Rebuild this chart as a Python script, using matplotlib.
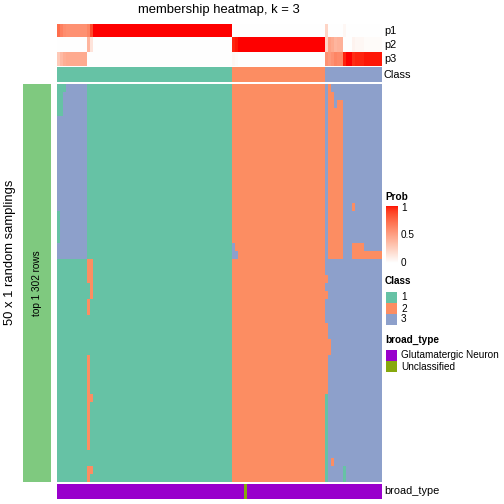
import numpy as np
import matplotlib
matplotlib.use("Agg")
import matplotlib.pyplot as plt
from matplotlib.colors import ListedColormap, BoundaryNorm
from matplotlib.patches import Rectangle

plt.rcParams['font.family'] = ['Liberation Sans', 'DejaVu Sans']

# ---------------- data ----------------
title = "membership heatmap, k = 3"
ylabel = "50 x 1 random samplings"
row_split_label = "top 1 302 rows"
class_names = ["1", "2", "3"]
class_colors = ["#66C2A5", "#FC8D62", "#8DA0CB"]
broad_types = ["Glutamatergic Neuron", "Unclassified"]
broad_colors = ["#9900CC", "#86A80D"]

# membership of each sample (column) in each of 50 random samplings (rows), run-length coded
membership_rle = [
    "1x3 3x7 1x48 2x31 3x1 2x1 3x17",
    "1x2 3x8 1x48 2x31 3x1 2x2 3x16",
    "1x2 3x8 1x48 2x31 3x1 2x2 3x1 2x2 3x13",
    "1x2 3x8 1x48 2x31 3x1 2x5 3x13",
    "3x10 1x48 2x31 3x1 2x5 3x13",
    "3x10 1x48 2x31 3x1 2x5 3x13",
    "3x10 1x48 2x31 3x1 2x5 3x13",
    "3x10 1x48 2x31 3x1 2x5 3x13",
    "3x10 1x48 2x31 3x1 2x5 3x13",
    "3x10 1x48 2x31 3x1 2x5 3x13",
    "3x10 1x48 2x31 3x1 2x5 3x13",
    "3x10 1x48 2x31 3x1 2x5 3x13",
    "3x10 1x48 2x31 3x1 2x5 3x13",
    "3x10 1x48 2x31 3x1 2x5 3x13",
    "3x10 1x48 2x31 3x1 2x5 3x13",
    "3x10 1x48 2x31 3x1 2x5 3x3 2x1 3x9",
    "1x1 3x9 1x48 2x31 3x1 2x5 3x13",
    "1x1 3x9 1x48 2x31 3x1 2x5 3x13",
    "1x1 3x9 1x48 2x31 3x1 2x5 3x13",
    "1x1 3x9 1x48 2x31 3x1 2x5 3x13",
    "3x10 1x48 3x1 2x30 3x1 2x5 3x3 2x4 3x6",
    "3x10 1x48 3x2 2x29 3x1 2x5 3x3 2x10",
    "1x10 2x2 1x46 2x31 3x19",
    "1x10 2x2 1x46 2x31 3x19",
    "1x10 2x2 1x46 2x32 3x18",
    "1x11 2x1 1x46 2x31 3x19",
    "1x11 2x1 1x46 2x32 3x18",
    "1x10 2x1 1x47 2x31 3x19",
    "1x10 2x1 1x47 2x31 3x19",
    "1x58 2x31 3x19",
    "1x58 2x32 3x18",
    "1x58 2x32 3x18",
    "1x58 2x33 3x17",
    "1x58 2x33 3x17",
    "1x10 2x1 1x47 2x32 3x18",
    "1x10 2x1 1x47 2x32 3x18",
    "1x10 2x1 1x47 2x32 3x18",
    "1x10 2x1 1x47 2x32 3x18",
    "1x10 2x1 1x47 2x32 3x18",
    "1x10 2x2 1x46 2x31 1x1 3x18",
    "1x10 2x1 1x47 2x31 1x1 3x18",
    "1x10 2x1 1x47 2x31 1x1 3x18",
    "1x10 2x1 1x47 2x31 1x1 3x18",
    "1x10 2x1 1x47 2x31 1x1 3x18",
    "1x10 2x1 1x47 2x31 1x1 3x18",
    "1x10 2x1 1x47 2x31 1x1 3x18",
    "1x58 2x31 1x1 3x18",
    "1x58 2x31 1x1 3x1 2x1 3x16",
    "1x10 2x2 1x46 2x31 1x1 3x5 1x1 3x12",
    "1x10 2x1 1x47 2x31 1x1 3x5 1x1 3x12",
]

# class probabilities per column (value, run length)
p1_runs = [(0.72, 1), (0.64, 1), (0.58, 1), (0.56, 7), (0.62, 1), (0.86, 1), (1.0, 46),
           (0.0, 31), (0.22, 1), (0.0, 5), (0.04, 1), (0.0, 12)]
p2_runs = [(0.0, 10), (0.38, 1), (0.14, 1), (0.0, 46), (0.96, 1), (0.98, 1), (1.0, 29),
           (0.22, 1), (0.48, 1), (0.44, 1), (0.38, 1), (0.40, 2), (0.0, 3), (0.06, 1),
           (0.04, 3), (0.02, 6)]
p3_runs = [(0.28, 1), (0.36, 1), (0.42, 1), (0.44, 7), (0.0, 48), (0.04, 1), (0.02, 1),
           (0.0, 29), (0.56, 1), (0.52, 1), (0.56, 1), (0.62, 1), (0.60, 2), (0.96, 1),
           (1.0, 2), (0.94, 1), (0.96, 3), (0.98, 6)]
class_runs = [(1, 58), (2, 31), (3, 19)]
broad_runs = [(0, 62), (1, 1), (0, 45)]


def expand(runs):
    out = []
    for v, n in runs:
        out += [v] * n
    return out


def decode(s):
    out = []
    for tok in s.split():
        v, n = tok.split("x")
        out += [int(v)] * int(n)
    return out


M = np.array([decode(s) for s in membership_rle])
P = np.array([expand(p1_runs), expand(p2_runs), expand(p3_runs)])
cls = np.array([expand(class_runs)])
brd = np.array([expand(broad_runs)])


# white -> red in LAB space
def lab_to_rgb(L, a, b):
    fy = (L + 16) / 116
    fx = fy + a / 500
    fz = fy - b / 200

    def finv(t):
        return np.where(t ** 3 > 0.008856, t ** 3, (t - 16 / 116) / 7.787)
    X, Y, Z = 0.95047 * finv(fx), 1.0 * finv(fy), 1.08883 * finv(fz)
    R = 3.2406 * X - 1.5372 * Y - 0.4986 * Z
    G = -0.9689 * X + 1.8758 * Y + 0.0415 * Z
    B = 0.0557 * X - 0.2040 * Y + 1.0570 * Z
    rgb = np.stack([R, G, B], -1)
    rgb = np.clip(rgb, 0, 1)
    rgb = np.where(rgb > 0.0031308, 1.055 * rgb ** (1 / 2.4) - 0.055, 12.92 * rgb)
    return np.clip(rgb, 0, 1)


t = np.linspace(0, 1, 256)
prob_cmap = ListedColormap(lab_to_rgb(100 - t * (100 - 53.24), t * 80.09, t * 67.20))
class_cmap = ListedColormap(class_colors)
class_norm = BoundaryNorm([0.5, 1.5, 2.5, 3.5], 3)
broad_cmap = ListedColormap(broad_colors)

# ---------------- layout ----------------
W = H = 504
fig = plt.figure(figsize=(7, 7), dpi=72)


def ax_px(x0, y0, x1, y1):
    a = fig.add_axes([x0 / W, 1 - y1 / H, (x1 - x0) / W, (y1 - y0) / H])
    a.set_axis_off()
    return a


X0, X1 = 57, 381
ax = ax_px(X0, 24, X1, 66)
ax.imshow(P, cmap=prob_cmap, vmin=0, vmax=1, aspect="auto", interpolation="nearest")
ax = ax_px(X0, 67, X1, 81.7)
ax.imshow(cls, cmap=class_cmap, norm=class_norm, aspect="auto", interpolation="nearest")
ax = ax_px(X0, 84, X1, 482)
ax.imshow(M, cmap=class_cmap, norm=class_norm, aspect="auto", interpolation="nearest")
ax = ax_px(X0, 484, X1, 499)
ax.imshow(brd, cmap=broad_cmap, vmin=-0.5, vmax=1.5, aspect="auto", interpolation="nearest")

# overlay for text and legends in pixel coordinates
ov = fig.add_axes([0, 0, 1, 1])
ov.set_xlim(0, W)
ov.set_ylim(H, 0)
ov.set_axis_off()

ov.add_patch(Rectangle((23, 84), 28, 398, color="#7FC97F", lw=0))
ov.text(37, 283, row_split_label, rotation=90, ha="center", va="center", fontsize=10)
ov.text(10, 252, ylabel, rotation=90, ha="center", va="center", fontsize=13)
ov.text((X0 + X1) / 2, 10, title, ha="center", va="center", fontsize=13)

for lab, y in zip(["p1", "p2", "p3", "Class"], [31, 45, 59, 74.5]):
    ov.text(384, y, lab, ha="left", va="center", fontsize=11)
ov.text(384, 491.5, "broad_type", ha="left", va="center", fontsize=11)

# Prob legend
LX = 386
ov.text(LX - 1, 197, "Prob", ha="left", va="center", fontsize=10, fontweight="bold")
cb = ax_px(LX, 206, LX + 12, 263)
cb.imshow(np.linspace(1, 0, 100)[:, None], cmap=prob_cmap, vmin=0, vmax=1,
          aspect="auto", interpolation="bilinear")
for v, lab in [(1, "1"), (0.5, "0.5"), (0, "0")]:
    y = 263 - v * 55
    ov.text(401, y, lab, ha="left", va="center", fontsize=10)
for y in [234.5]:
    ov.plot([LX, LX + 2], [y, y], color="white", lw=0.8)
    ov.plot([LX + 10, LX + 12], [y, y], color="white", lw=0.8)

# Class legend
ov.text(LX - 1, 281, "Class", ha="left", va="center", fontsize=10, fontweight="bold")
for i, (n, c) in enumerate(zip(class_names, class_colors)):
    y0 = 292 + i * 11
    ov.add_patch(Rectangle((LX, y0), 11, 11, color=c, lw=0))
    ov.text(401, y0 + 5.5, n, ha="left", va="center", fontsize=10)

# broad_type legend
ov.text(LX - 1, 340, "broad_type", ha="left", va="center", fontsize=10, fontweight="bold")
for i, (n, c) in enumerate(zip(broad_types, broad_colors)):
    y0 = 349.5 + i * 11.5
    ov.add_patch(Rectangle((LX, y0), 11, 11, color=c, lw=0))
    ov.text(401, y0 + 5.5, n, ha="left", va="center", fontsize=10)

fig.savefig("out.png", dpi=72)
